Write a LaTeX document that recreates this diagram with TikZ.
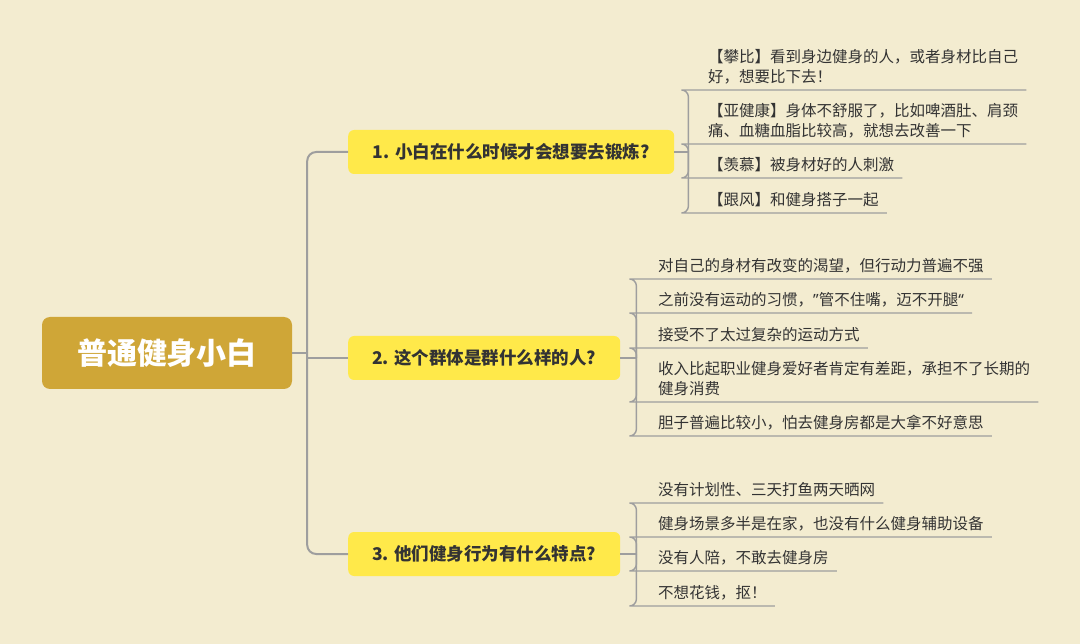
\documentclass[tikz,border=0pt]{standalone}
\usepackage{fontspec}
\setmainfont{Noto Sans CJK SC}
\newfontfamily\quotefont{Noto Sans}
\usetikzlibrary{positioning}
\definecolor{paper}{RGB}{243,236,208}
\definecolor{gold}{RGB}{207,166,55}
\definecolor{lemon}{RGB}{255,233,74}
\definecolor{wire}{RGB}{158,158,158}
\definecolor{ink}{RGB}{51,51,51}
\tikzstyle{mainbox} = [rectangle, fill=gold, rounded corners=8pt,
    minimum width=250pt, minimum height=72pt, text=white,
    font=\fontsize{30}{36}\selectfont\bfseries]
\tikzstyle{topicbox} = [rectangle, fill=lemon, rounded corners=6pt,
    inner xsep=0pt, minimum height=44pt, anchor=west, text=ink,
    font=\fontsize{17.5}{21}\selectfont\bfseries]
\tikzstyle{leafbox} = [inner xsep=0pt, inner ysep=6pt, anchor=south west,
    align=left, text=ink, font=\fontsize{15.5}{20}\selectfont]
\tikzstyle{trunkline} = [draw=wire, line width=2pt, rounded corners=9pt]
\tikzstyle{leafline} = [draw=wire, line width=1.4pt, rounded corners=7pt]

\begin{document}
\begin{tikzpicture}[x=1pt, y=-1pt]
  \useasboundingbox (0,0) rectangle (1080,644);
  \fill [paper] (0,0) rectangle (1080,644);

  \node [mainbox] (main) at (167,353) {普通健身小白};

  \node [topicbox, minimum width=326pt] (q1) at (348,152) {1. 小白在什么时候才会想要去锻炼?};
  \node [topicbox, minimum width=272pt] (q2) at (348,358) {2. 这个群体是群什么样的人?};
  \node [topicbox, minimum width=272pt] (q3) at (348,554) {3. 他们健身行为有什么特点?};

  \coordinate [right=15pt of main] (fork);
  \coordinate [right=14pt of q1] (fork1);
  \coordinate [right=16pt of q2] (fork2);
  \coordinate [right=16pt of q3] (fork3);

  % group 1
  \node [leafbox] (a1) at (708,90) {【攀比】看到身边健身的人，或者身材比自己\\好，想要比下去！};
  \node [leafbox] (a2) at (708,144) {【亚健康】身体不舒服了，比如啤酒肚、肩颈\\痛、血糖血脂比较高，就想去改善一下};
  \node [leafbox] (a3) at (708,178) {【羡慕】被身材好的人刺激};
  \node [leafbox] (a4) at (708,213) {【跟风】和健身搭子一起};

  % group 2
  \node [leafbox] (b1) at (658,279) {对自己的身材有改变的渴望，但行动力普遍不强};
  \node [leafbox] (b2) at (658,313) {之前没有运动的习惯，{\quotefont ”}管不住嘴，迈不开腿{\quotefont “}};
  \node [leafbox] (b3) at (658,348) {接受不了太过复杂的运动方式};
  \node [leafbox] (b4) at (658,402) {收入比起职业健身爱好者肯定有差距，承担不了长期的\\健身消费};
  \node [leafbox] (b5) at (658,436) {胆子普遍比较小，怕去健身房都是大拿不好意思};

  % group 3
  \node [leafbox] (c1) at (658,503) {没有计划性、三天打鱼两天晒网};
  \node [leafbox] (c2) at (658,537) {健身场景多半是在家，也没有什么健身辅助设备};
  \node [leafbox] (c3) at (658,571) {没有人陪，不敢去健身房};
  \node [leafbox] (c4) at (658,606) {不想花钱，抠！};

  \draw [trunkline] (main.east) -- (fork);
  \draw [trunkline] (fork) |- (q1.west);
  \draw [trunkline] (fork |- q2.west) -- (q2.west);
  \draw [trunkline] (fork) |- (q3.west);

  \draw [leafline] (q1.east) -- (fork1);
  \draw [leafline] (q2.east) -- (fork2);
  \draw [leafline] (q3.east) -- (fork3);

  \foreach \leaf in {a1,a2,a3,a4}
    \draw [leafline] (fork1) |- ([xshift=-20pt]\leaf.south west) -- ([xshift=8pt]\leaf.south east);
  \foreach \leaf in {b1,b2,b3,b4,b5}
    \draw [leafline] (fork2) |- ([xshift=-22pt]\leaf.south west) -- ([xshift=8pt]\leaf.south east);
  \foreach \leaf in {c1,c2,c3,c4}
    \draw [leafline] (fork3) |- ([xshift=-22pt]\leaf.south west) -- ([xshift=8pt]\leaf.south east);
\end{tikzpicture}
\end{document}
